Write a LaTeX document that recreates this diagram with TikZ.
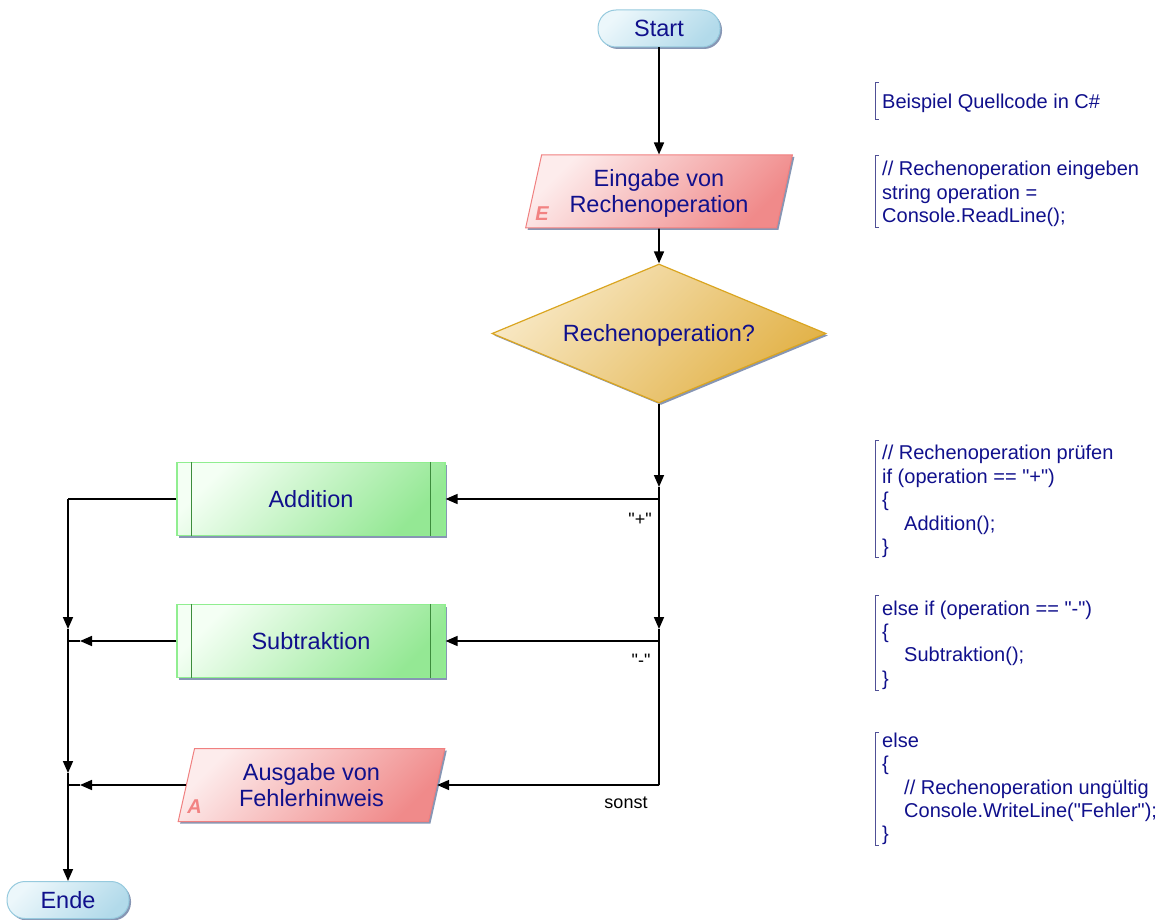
\documentclass[tikz,border=0pt]{standalone}
\usepackage{fontspec}
\setmainfont{Liberation Sans}
\newfontfamily\plainsans{Liberation Sans}
\usetikzlibrary{shapes.geometric,shadows,arrows.meta,calc}
\definecolor{txt}{RGB}{16,16,140}
\definecolor{shd}{RGB}{135,150,180}
\definecolor{termA}{RGB}{236,247,251}
\definecolor{termB}{RGB}{178,218,234}
\definecolor{termD}{RGB}{150,202,222}
\definecolor{ioA}{RGB}{253,236,236}
\definecolor{ioB}{RGB}{240,138,138}
\definecolor{ioD}{RGB}{240,128,128}
\definecolor{ioM}{RGB}{242,130,130}
\definecolor{decA}{RGB}{248,232,196}
\definecolor{decB}{RGB}{226,178,72}
\definecolor{decD}{RGB}{218,165,32}
\definecolor{prA}{RGB}{244,255,244}
\definecolor{prB}{RGB}{148,232,148}
\definecolor{prD}{RGB}{144,238,144}
\definecolor{prI}{RGB}{60,140,60}
\definecolor{brk}{RGB}{80,80,150}
\newcommand{\tallline}{\rule{0pt}{0.9em}}
\begin{document}
\begin{tikzpicture}[x=1pt,y=-1pt,
  nodefont/.style={font=\plainsans\fontsize{23.5}{26.7}\selectfont, text=txt, align=center},
  shadowed/.style={general shadow={fill=shd, shadow xshift=2pt, shadow yshift=-2pt}},
  term/.style={nodefont, shadowed, rectangle, rounded corners=18pt, draw=termD, line width=1pt,
    top color=termA, bottom color=termB, shading angle=45, minimum width=122pt, minimum height=37pt, inner sep=0pt},
  io/.style={nodefont, shadowed, trapezium, trapezium left angle=77, trapezium right angle=103,
    trapezium stretches=true, draw=ioD, line width=1pt, top color=ioA, bottom color=ioB, shading angle=45,
    minimum width=267pt, minimum height=73pt, inner sep=0pt},
  dec/.style={nodefont, shadowed, diamond, aspect=2.4, draw=decD, line width=1.2pt, top color=decA, bottom color=decB,
    shading angle=45, minimum width=334pt, minimum height=139pt, inner sep=0pt},
  proc/.style={nodefont, shadowed, rectangle, draw=prD, line width=1.2pt, top color=prA, bottom color=prB,
    shading angle=45, minimum width=268pt, minimum height=73pt, inner sep=0pt},
  innerline/.style={draw=prI, line width=1.2pt},
  iomark/.style={font=\plainsans\fontsize{20}{20}\selectfont\bfseries\itshape, text=ioM, inner sep=0pt},
  flow/.style={draw=black, line width=1.6pt},
  arr/.style={flow, -{Triangle[length=12pt,width=10pt]}},
  lbl/.style={font=\plainsans\fontsize{18}{20}\selectfont, text=black, inner sep=0pt},
  code/.style={font=\plainsans\fontsize{20}{23.4}\selectfont, text=txt, align=left, anchor=west, inner sep=0pt},
  bracket/.style={draw=brk, line width=1pt}
]
\useasboundingbox (0,0) rectangle (1168,920);

% nodes
\node[term] (start) at (659,28.5) {Start};
\node[io] (eing) at (659,191.5) {\tallline Eingabe von\\Rechenoperation};
\node[iomark] (eE) at ($(eing.center)+(-117,22)$) {E};
\node[dec] (dia) at (659,333.5) {\tallline Rechenoperation?};
\node[proc] (add) at (311,499) {Addition};
\node[proc] (sub) at (311,641) {Subtraktion};
\node[io] (ausg) at (311.5,785) {Ausgabe von\\Fehlerhinweis};
\node[iomark] (aA) at ($(ausg.center)+(-117,22)$) {A};
\node[term] (ende) at (68,900) {Ende};

\foreach \n in {add,sub}{
  \draw[innerline] ($(\n.north west)+(15,0)$) -- ($(\n.south west)+(15,0)$);
  \draw[innerline] ($(\n.north east)+(-15,0)$) -- ($(\n.south east)+(-15,0)$);
}

% coordinates
\coordinate (j1) at (659,499);
\coordinate (j2) at (659,641);
\coordinate (j3) at (659,785);
\coordinate (t1) at (659,487);
\coordinate (t2) at (659,629);
\coordinate (k1) at (68,499);
\coordinate (k2) at (68,641);
\coordinate (k3) at (68,785);
\coordinate (kt1) at (68,629);
\coordinate (kt2) at (68,773);
\coordinate (s2) at (80,641);
\coordinate (s3) at (80,785);

% connectors
\draw[arr] (start) -- (eing);
\draw[arr] (eing) -- (dia);
\draw[arr] (dia) -- (t1);
\draw[flow] (t1) -- (j1);
\draw[arr] (j1) -- (add);
\draw[arr] (j1) -- (t2);
\draw[flow] (t2) -- (j2);
\draw[arr] (j2) -- (sub);
\draw[flow] (j2) -- (j3);
\draw[arr] (j3) -- (ausg);

\draw[flow] (add) -- (k1);
\draw[arr] (k1) -- (kt1);
\draw[flow] (kt1) -- (k2);
\draw[arr] (sub) -- (s2);
\draw[flow] (s2) -- (k2);
\draw[arr] (k2) -- (kt2);
\draw[flow] (kt2) -- (k3);
\draw[arr] (ausg) -- (s3);
\draw[flow] (s3) -- (k3);
\draw[arr] (k3) -- (ende);

% labels
\node[lbl] (lp) at (640,519) {"+"};
\node[lbl] (lm) at (641,660) {"-"};
\node[lbl] (ls) at (626,803) {sonst};

% code
\node[code] (c1) at (882,103) {Beispiel Quellcode in C\#};
\node[code] (c2) at (882,194) {// Rechenoperation eingeben\\string operation =\\Console.ReadLine();};
\node[code] (c3) at (882,501.5) {// Rechenoperation prüfen\\if (operation == "+")\\\{\\\hspace*{22pt}Addition();\\\}};
\node[code] (c4) at (882,645) {else if (operation == "-")\\\{\\\hspace*{22pt}Subtraktion();\\\}};
\node[code] (c5) at (882,789) {else\\\{\\\hspace*{22pt}// Rechenoperation ungültig\\\hspace*{22pt}Console.WriteLine("Fehler");\\\}};

\draw[bracket] (879,83) -- (875,83) -- (875,120) -- (879,120);
\draw[bracket] (879,156) -- (875,156) -- (875,228) -- (879,228);
\draw[bracket] (879,440) -- (875,440) -- (875,557) -- (879,557);
\draw[bracket] (879,595) -- (875,595) -- (875,690) -- (879,690);
\draw[bracket] (879,732) -- (875,732) -- (875,845) -- (879,845);
\end{tikzpicture}
\end{document}
